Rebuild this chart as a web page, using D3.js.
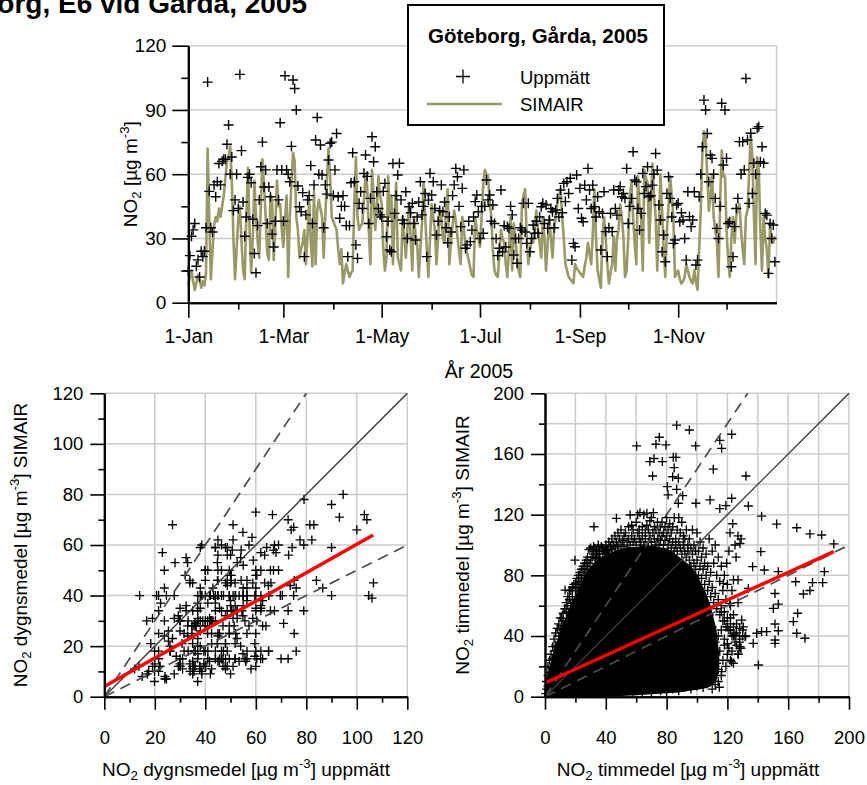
<!DOCTYPE html>
<html><head><meta charset="utf-8">
<script src="https://cdn.jsdelivr.net/npm/d3@7/dist/d3.min.js"></script>
<style>html,body{margin:0;padding:0;background:#fff}svg{display:block}</style>
</head><body>
<svg id="chart" width="867" height="785"></svg>
<script>
// ---------------- DATA ----------------
// Daily NO2 (µg/m3), index 0 = 1 Jan 2005 ... 364 = 31 Dec 2005
const measured = [
15,22,31,34,37,17,20,12,24,21.5,
24,35,103,52,35,33,55,49.5,56.5,65,
55,66,67,67,74,83,60,68,43,48,
60,44,106.6,71,47,31,40,58.5,60,56,
39,23,14,36,48,63.5,75,54,62,37,
54,49.5,32,26,38,62,48,84,62,38,
106,62,60,56.5,73,104,100,90,54.5,44.8,
42.5,51.4,21.5,41,48,50,64,37,55,76,
86.5,60,73.6,59.6,35,55,50.7,66.6,74.4,75,
50,62,79,49.5,39.4,45,50,45,36,21.5,
36,56,70,56.5,27,20.7,46.4,51.8,44,60.4,
69,59,37,48.7,77.5,65.8,72.8,51.8,44,41,
40,52,55.7,30.8,38,24.6,23.8,65,41.7,50,
59.6,65.1,48,38.6,37,51.8,30,44.8,42,46.4,
37,29.3,40,47,56.5,41,45,51,21.5,47.9,
60.4,50.3,56.5,44,31.6,38,43,55,42.5,47,
35,28,40,33,50,55,62.7,58.8,45,35.5,
53.4,62,25.4,27,38,28.5,33.9,40,47.2,50.3,
42.5,30,45,32.4,45,57.3,48,50.3,38,45.6,
37,30,22,25.4,52.6,23.8,36,26,35.5,34.7,
45,41,22.3,30,18.4,30,35,33.9,46.4,33,
27.7,46.4,23.8,30,36.3,32.4,38,32.4,40,44.8,
46.4,37,45.6,34.7,38.6,44,42.5,35,43.3,48.7,
40,52.6,42,55.7,47.2,56.5,51,58.1,19.9,27.7,
26.1,59.6,44,53.4,39.4,37.8,54.9,48,62.7,52.6,
44,54.9,44.8,40,49.5,42.5,24.6,41.7,51.8,33.2,
21.5,35,41.7,33.2,52.6,44,40.9,52.6,54.2,49.5,
51,48.7,62.7,37,45,48.7,70.5,57.3,56.5,44,
33.9,41.7,60.4,51,54.2,63.5,49.5,50,54.9,60,
69.7,61.9,45.6,38.6,23.8,31.6,19.1,51,58.8,48.7,
40,27.7,29.3,45.6,46.4,37.8,42,38.6,30,19.9,
51.8,40.2,35.5,38.6,51.8,17.6,19.9,49.5,60,72.8,
94.6,90,79,56.5,69,67.4,60,48.7,34.7,30,
45,93.1,64.3,90,67.4,37,37.8,16.8,21.5,35.5,
44,48.7,75.2,60,75.2,62,104.7,76,46.4,79.1,
51,65.1,60,81.4,82.2,65.8,72.8,65.1,41.7,40.9,
13.7,37,30,36.3,19.1];
const simair = [
8,12,15,10,6,9,13,11,7,10,
8,14,72,40,11,24,36,40,38,44,
40,45,50,58,66,68,73,57,30,11,
25,39,45,29,15,11,40,63,35,14,
30,57,40,29,21,45,67,55,40,23,
20,50,48,20,35,57,45,46,34,26,
39,50,12,40,56,70,66,40,34,21,
25,28,34,18,32,48,28,17,52,18,
43,48,44,40,21,40,58,72,59,40,
38,36,34,25,18,25,9,14,18,15,
12,14,15,46,68,40,34,36,37,48,
60,54,34,18,62,50,34,45,59,50,
46,25,15,21,59,40,50,18,40,56,
21,18,15,40,31,21,35,46,30,15,
40,32,28,12,25,37,56,40,25,12,
30,46,40,34,18,30,43,40,30,28,
45,53,18,28,36,43,38,31,24,18,
40,35,26,23,20,16,13,12,40,34,
30,26,40,55,62,60,59,48,40,25,
15,13,12,22,34,30,28,18,12,25,
40,15,37,30,21,15,12,46,50,53,
31,18,24,30,28,36,43,34,28,21,
40,30,15,28,40,30,21,34,40,46,
50,53,40,30,18,15,12,11,10,9,
18,16,15,14,13,12,17,21,28,23,
18,32,53,30,15,11,7,31,40,30,
18,9,14,18,31,15,30,34,46,40,
31,12,15,30,50,56,40,28,18,59,
45,40,15,62,58,56,28,45,65,50,
40,15,35,60,43,25,12,34,45,59,
50,40,12,14,15,11,9,10,12,18,
15,12,10,9,15,10,6,25,43,70,
80,76,60,43,50,60,40,34,28,12,
46,71,59,59,34,20,12,30,40,28,
40,44,46,34,25,18,40,43,60,78,
68,40,18,68,62,34,15,40,30,25,
12,37,30,28,31];

const monthLabels = ["1-Jan","1-Mar","1-May","1-Jul","1-Sep","1-Nov"];
const tsTicks = [0,30,60,90,120];
const tsMinorTicks = [15,45,75,105];
const dailyTicks = [0,20,40,60,80,100,120];
const dailyMinorTicks = [10,30,50,70,90,110];
const hourlyTicks = [0,40,80,120,160,200];
const hourlyMinorTicks = [20,60,100,140,180];
const refSlopes = [1, 1.5, 0.5];            // 1:1 line and ±50 % lines
const dailyFit = [4.0, 0.563];              // intercept, slope (SIMAIR vs measured, daily)
const dailyFitX = [0, 106.5];
const hourlyFit = [9.0, 0.456];             // intercept, slope (hourly)
const hourlyFitX = [0, 190];
// area of the hourly scatter where thousands of crosses overlap into solid black (data units)
const hourlyDenseArea = [[0,0],[0.5,6],[1.5,10],[3,17],[5,25],[7,32],[10,41],[13,49],[16,57],[19,64],[22,70],[25,76],[28,82],[31,86],[35,90],[40,93],[45,95],[50,97],[55,98],[60,98],[65,99],[70,99],[75,98],[80,97],[85,94],[90,90],[95,86],[99,81],[102,75],[105,69],[108,61],[110,53],[112,45],[113,37],[114,28],[114,18],[112,10],[108,7],[102,5.5],[95,4.5],[88,3.5],[80,3],[70,2.2],[60,1.6],[50,1.2],[40,0.8],[20,0.4],[4,0.2]];
// individually visible hourly crosses (measured, SIMAIR)
const hourlyPairs = [
[0.5,2],[1,5],[1,10],[2,7],[2,14],[2,20],[3,9],[3,16],[3,24],[4,19],[4,28],[5,25],[5,33],[6,30],[6,38],[7,34],[7,42],[7.7,33],[8,45],[9,40],[9,48],[10,44],[10,52],[11,51.6],[11,47],[12,55],[12,50],[13,58],[13.2,70.3],[14,62],[14,56],[15,60],[15,66],[16,64],[16,70],[17,70],[17,62],[18,66],[18,72],[19,74],[19.7,90],[20,75],[20,70],[21,78],[21,72],[22,74],[22,80],[23,82],[23,76],[24,78],[24,84],[25,86],[25,80],[26,82],[26,88],[27,84],[27,90],[28,86],[28,92],[29,97],[29,88],[30,90],[30,98],[31,92],[31,96],[32,94],[32,99],[32.2,112],[33,91],[33,97],[34,96],[34,92],[35,100],[35,94],[36,96],[36,92],[37,99],[38,94],[38,98],[39,96],[40,100],[40,95],[41,97],[42,102],[42,96],[43,99],[44,97],[44,104],[45,100],[46,98],[46,106],[47,102],[47,117.6],[48,99],[48,108],[49,104],[50,100],[50,110],[51,103],[52,106],[52,99],[53,108],[54,102],[55,112],[55,104],[56,100],[56,119.8],[57,106],[57,113],[58,102],[58,110],[59,104],[60,115],[60,100],[61,108],[61,120],[62,104],[62,110],[62.5,121.3],[63,102],[64,112],[64,106],[65,100],[65,120],[66,108],[66,104],[67,113],[67,121],[68,102],[68,110],[69,106],[69,116],[70,118],[70,102],[71,108],[71.3,121.3],[72,104],[72,112],[73,100],[73,110],[74,115],[74,104],[75,100],[75,108],[76,112],[76,103],[77,106],[77,115],[78,100],[78,108],[79,112],[79,103],[80,106],[80,118],[81,100],[81,110],[82,104],[82,114],[83,98],[83,108],[84,102],[84,112],[85,96],[85,118],[86,104],[86,100],[87,110],[87,96],[88,118],[88,102],[89,98],[89,108],[90,94],[90,115],[91,100],[91,106],[92,96],[92,104],[93,110],[93,92],[94,100],[94,96],[95,104],[95,90],[96,98],[96,86],[97,94],[97,110],[98,88],[98,100],[99,84],[99,96],[100,90],[100,108],[101,80],[101,96],[102,86],[102,102],[103,78],[103,92],[104,84],[104,98],[105,74],[105,88],[106,80],[106,94],[107,70],[107,86],[108,76],[108,104],[109,66],[109,82],[110,72],[110,96],[111,62],[111,88],[112,68],[112,100],[113,58],[113,80],[114,64],[114,92],[115,54],[115,76],[116,60],[116,86],[117,50],[117,70],[118,56],[118,80],[119,46],[119,64],[120,52],[120,74],[121,44],[121,96],[122,48],[122,60],[123,40],[123,70],[124,46],[124,54],[125,36],[125,100],[126,42],[126,48],[127,28],[127,62],[128,38],[128,45],[129,32],[129,104],[130,40],
[112,28],[113,22],[114,18],[115,30],[116,14],[117,24],[118,34],[119,20],[120,28],[121,32],[122,24],[123,30],[124,22],[114,10],[112,8],[114.7,6.2],[116.2,16.5],[110,5],[108,10],[105.3,9.9],[104,6],[100,7],[96,5],[92,6],[88,4],[84,5],[80,3.5],[76,4],[70,3],[64,3],[58,2],[120,35],[118,38],[116,44],[114,40],[112,36],[110,46],[108,54],[106,58],[122,44],[124,40],[126,34],[128,36],[130,44],[132,40],[120,46],[122,52],[118,50],[116,56],
[127.2,28.1],[128.3,31.9],[122.8,23],[131.6,39.6],[123.5,114],[121.7,108],[127,106],[128.3,101],[125.7,92],[119.5,88],[124,77],[127,77],[117.3,74.7],[121.7,61.5],[130.5,46],[129.4,50.5],[125,40.7],[128.3,33],
[87.7,127.5],[99.3,127.5],[108.6,129.7],[122.8,130.8],[133.8,125.7],[115,124],[119,126],[90.6,132.5],[81,133],[80.5,138.5],[86.6,136.7],
[86.6,179],[95,175.8],[122.8,173],[60.3,165.3],[75.2,171],[73,166.4],[79.6,166],[99.1,165.3],[115,169],[116.2,163.7],[69,155],[71.7,157],[77.2,155],[84.4,157.8],[86.2,157.8],[85,151],[110.7,150],[70.8,145.5],[84,145],[87.7,144],[132.2,145.5],[142.5,119],[152.4,113.8],[165.6,111.4],[174.3,107.3],[182,106.6],[190,100.7],[142,95.6],[136.6,85.7],[144.3,83.5],[153.5,82.4],[183.8,82.4],[164.9,75.8],[176,75.2],[182.7,75.2],[174.3,70],[170,67.7],[133.8,71.4],[151.3,68],[153.5,61],[150.2,58.2],[166.2,55],[163.4,49.5],[165.6,41.8],[171,38.5],[151.3,47.9],[153.5,43.5],[151.3,37.4],[151.3,35.2],[137,35.2],[139.3,41.8],[142.5,42.9],[145.8,42.9],[140.4,20.9]
];

// ---------------- DRAWING ----------------
const FONT = '"Liberation Sans", Arial, Helvetica, sans-serif';
const GRID = "#cbcbcb", OLIVE = "#999966";
const svg = d3.select("#chart").attr("font-family", FONT);

function styleAxis(g, fs) {
  g.attr("font-family", FONT);
  g.select(".domain").attr("stroke", "#000").attr("stroke-width", 2);
  g.selectAll(".tick line").attr("stroke", "#000").attr("stroke-width", 1.6);
  g.selectAll(".tick text").attr("font-size", fs).attr("fill", "#000");
}
function richText(g, parts, fs) {
  const t = g.append("text").attr("font-size", fs).attr("fill", "#000");
  let shift = 0;
  parts.forEach(([s, k]) => {
    const target = k === "sub" ? 0.22 * fs : k === "sup" ? -0.42 * fs : 0;
    const ts = t.append("tspan").text(s).attr("dy", target - shift);
    if (k) ts.attr("font-size", fs * 0.7);
    shift = target;
  });
  return t;
}
function crossPath(cx, cy, r) { return `M${cx - r},${cy}h${2 * r}M${cx},${cy - r}v${2 * r}`; }

// ---- Title (cut off at the page edge, as in the original) ----
svg.append("text").attr("x", 307).attr("y", 13).attr("text-anchor", "end")
  .attr("font-size", 28).attr("font-weight", "bold").text("Göteborg, E6 vid Gårda, 2005");

// ---- Top: time series ----
(function () {
  const x0 = 188.3, x1 = 776.5, yb = 302.7, yt = 45.7;
  const start = new Date(2005, 0, 1), end = new Date(2006, 0, 1);
  const x = d3.scaleTime().domain([start, end]).range([x0, x1]);
  const y = d3.scaleLinear().domain([0, 120]).range([yb, yt]);
  const dayOf = i => d3.timeDay.offset(start, i);
  const g = svg.append("g");
  g.selectAll(null).data(tsTicks.slice(1)).join("line")
    .attr("x1", x0).attr("x2", x1).attr("y1", d => y(d)).attr("y2", d => y(d))
    .attr("stroke", GRID).attr("stroke-width", 1.5);
  g.append("line").attr("x1", x1).attr("x2", x1).attr("y1", y(0)).attr("y2", y(120))
    .attr("stroke", GRID).attr("stroke-width", 1.5);

  g.append("path").datum(simair)
    .attr("d", d3.line().x((d, i) => x(dayOf(i))).y(d => y(d)))
    .attr("fill", "none").attr("stroke", OLIVE).attr("stroke-width", 2.6).attr("stroke-linejoin", "round");

  const pts = measured.map((v, i) => ({ i, v })).filter(d => d.v != null);
  g.selectAll(null).data(pts).join("path")
    .attr("d", d => crossPath(x(dayOf(d.i)), y(d.v), 5))
    .attr("stroke", "#000").attr("stroke-width", 1.4).attr("fill", "none");

  const allMonths = d3.timeMonth.range(start, end);
  const major = allMonths.filter(d => d.getMonth() % 2 === 0);
  const minor = allMonths.filter(d => d.getMonth() % 2 === 1);
  const gx = g.append("g").attr("transform", `translate(0,${yb})`);
  gx.call(d3.axisBottom(x).tickValues(minor).tickFormat("").tickSize(7).tickSizeOuter(0));
  const gx2 = g.append("g").attr("transform", `translate(0,${yb})`);
  gx2.call(d3.axisBottom(x).tickValues(major).tickFormat((d, i) => monthLabels[i]).tickSize(15).tickSizeOuter(0).tickPadding(11));
  styleAxis(gx, 19.5); styleAxis(gx2, 19.5);
  const gy = g.append("g").attr("transform", `translate(${x0},0)`);
  gy.call(d3.axisLeft(y).tickValues(tsMinorTicks).tickFormat("").tickSize(7).tickSizeOuter(0));
  const gy2 = g.append("g").attr("transform", `translate(${x0},0)`);
  gy2.call(d3.axisLeft(y).tickValues(tsTicks).tickSize(16).tickSizeOuter(0).tickPadding(6));
  styleAxis(gy, 19); styleAxis(gy2, 19);

  const yl = g.append("g").attr("transform", `translate(137,${(yb + yt) / 2}) rotate(-90)`);
  richText(yl, [["NO", ""], ["2", "sub"], [" [µg m", ""], ["-3", "sup"], ["]", ""]], 19).attr("text-anchor", "middle");
  g.append("text").attr("x", 479).attr("y", 378).attr("text-anchor", "middle").attr("font-size", 19.5).text("År 2005");

  // legend
  const lg = g.append("g");
  lg.append("rect").attr("x", 408).attr("y", 5).attr("width", 256).attr("height", 120)
    .attr("fill", "#fff").attr("stroke", "#000").attr("stroke-width", 2);
  lg.append("text").attr("x", 538).attr("y", 43).attr("text-anchor", "middle")
    .attr("font-size", 20.5).attr("font-weight", "bold").text("Göteborg, Gårda, 2005");
  lg.append("path").attr("d", crossPath(463, 76.5, 7)).attr("stroke", "#000").attr("stroke-width", 1.3);
  lg.append("text").attr("x", 520).attr("y", 83.5).attr("font-size", 18.5).text("Uppmätt");
  lg.append("line").attr("x1", 427).attr("x2", 502).attr("y1", 104).attr("y2", 104)
    .attr("stroke", OLIVE).attr("stroke-width", 2.7);
  lg.append("text").attr("x", 520).attr("y", 111).attr("font-size", 18.5).text("SIMAIR");
})();

// ---- Scatter plots ----
function scatter(o) {
  const x = d3.scaleLinear().domain([0, o.max]).range([o.x0, o.x1]);
  const y = d3.scaleLinear().domain([0, o.max]).range([o.yb, o.yt]);
  const g = svg.append("g");
  const gridVals = d3.range(o.grid, o.max + 0.001, o.grid);
  g.selectAll(null).data(gridVals).join("line")
    .attr("x1", d => x(d)).attr("x2", d => x(d)).attr("y1", y(0)).attr("y2", y(o.max))
    .attr("stroke", GRID).attr("stroke-width", 1.5);
  g.selectAll(null).data(gridVals).join("line")
    .attr("y1", d => y(d)).attr("y2", d => y(d)).attr("x1", x(0)).attr("x2", x(o.max))
    .attr("stroke", GRID).attr("stroke-width", 1.5);

  if (o.area) {
    g.append("path").datum(o.area)
      .attr("d", d3.line().x(d => x(d[0])).y(d => y(d[1])).curve(d3.curveLinearClosed))
      .attr("fill", "#000").attr("stroke", "#000").attr("stroke-width", 2);
  }
  g.selectAll(null).data(o.pts).join("path")
    .attr("d", d => crossPath(x(d[0]), y(d[1]), 4.5))
    .attr("stroke", "#000").attr("stroke-width", 1.35).attr("fill", "none");

  refSlopes.forEach(s => {
    const xe = Math.min(o.max, o.max / s);
    g.append("line").attr("x1", x(0)).attr("y1", y(0)).attr("x2", x(xe)).attr("y2", y(s * xe))
      .attr("stroke", s === 1 ? "#3a3a3a" : "#4d4d4d").attr("stroke-width", s === 1 ? 1.4 : 1.7)
      .attr("stroke-dasharray", s === 1 ? null : "11,7");
  });
  g.append("line")
    .attr("x1", x(o.fitX[0])).attr("y1", y(o.fit[0] + o.fit[1] * o.fitX[0]))
    .attr("x2", x(o.fitX[1])).attr("y2", y(o.fit[0] + o.fit[1] * o.fitX[1]))
    .attr("stroke", "#ff0000").attr("stroke-width", 3.4);

  const ax = [
    g.append("g").attr("transform", `translate(0,${o.yb})`).call(d3.axisBottom(x).tickValues(o.minor).tickFormat("").tickSize(6).tickSizeOuter(0)),
    g.append("g").attr("transform", `translate(0,${o.yb})`).call(d3.axisBottom(x).tickValues(o.ticks).tickSize(13).tickSizeOuter(0).tickPadding(21)),
    g.append("g").attr("transform", `translate(${o.x0},0)`).call(d3.axisLeft(y).tickValues(o.minor).tickFormat("").tickSize(6).tickSizeOuter(0)),
    g.append("g").attr("transform", `translate(${o.x0},0)`).call(d3.axisLeft(y).tickValues(o.ticks).tickSize(14).tickSizeOuter(0).tickPadding(7))
  ];
  ax.forEach(a => styleAxis(a, 18.5));

  const xt = g.append("g").attr("transform", `translate(${o.xTitleX},776)`);
  richText(xt, [["NO", ""], ["2", "sub"], [` ${o.word} [µg m`, ""], ["-3", "sup"], ["] uppmätt", ""]], 19).attr("text-anchor", "middle");
  const yt = g.append("g").attr("transform", `translate(${o.yTitleX},${(o.yb + o.yt) / 2}) rotate(-90)`);
  richText(yt, [["NO", ""], ["2", "sub"], [` ${o.word} [µg m`, ""], ["-3", "sup"], ["] SIMAIR", ""]], 19).attr("text-anchor", "middle");
}

const dailyPairs = measured.map((v, i) => [v, simair[i]]).filter(d => d[0] != null && d[1] != null);
scatter({ x0: 104.3, x1: 407.3, yb: 696.7, yt: 393.3, max: 120, grid: 20,
  ticks: dailyTicks, minor: dailyMinorTicks, pts: dailyPairs, fit: dailyFit, fitX: dailyFitX,
  word: "dygnsmedel", xTitleX: 246, yTitleX: 27 });
scatter({ x0: 545, x1: 849, yb: 696.7, yt: 393.3, max: 200, grid: 20,
  ticks: hourlyTicks, minor: hourlyMinorTicks, pts: hourlyPairs, area: hourlyDenseArea,
  fit: hourlyFit, fitX: hourlyFitX, word: "timmedel", xTitleX: 688, yTitleX: 469 });
</script>
</body></html>
